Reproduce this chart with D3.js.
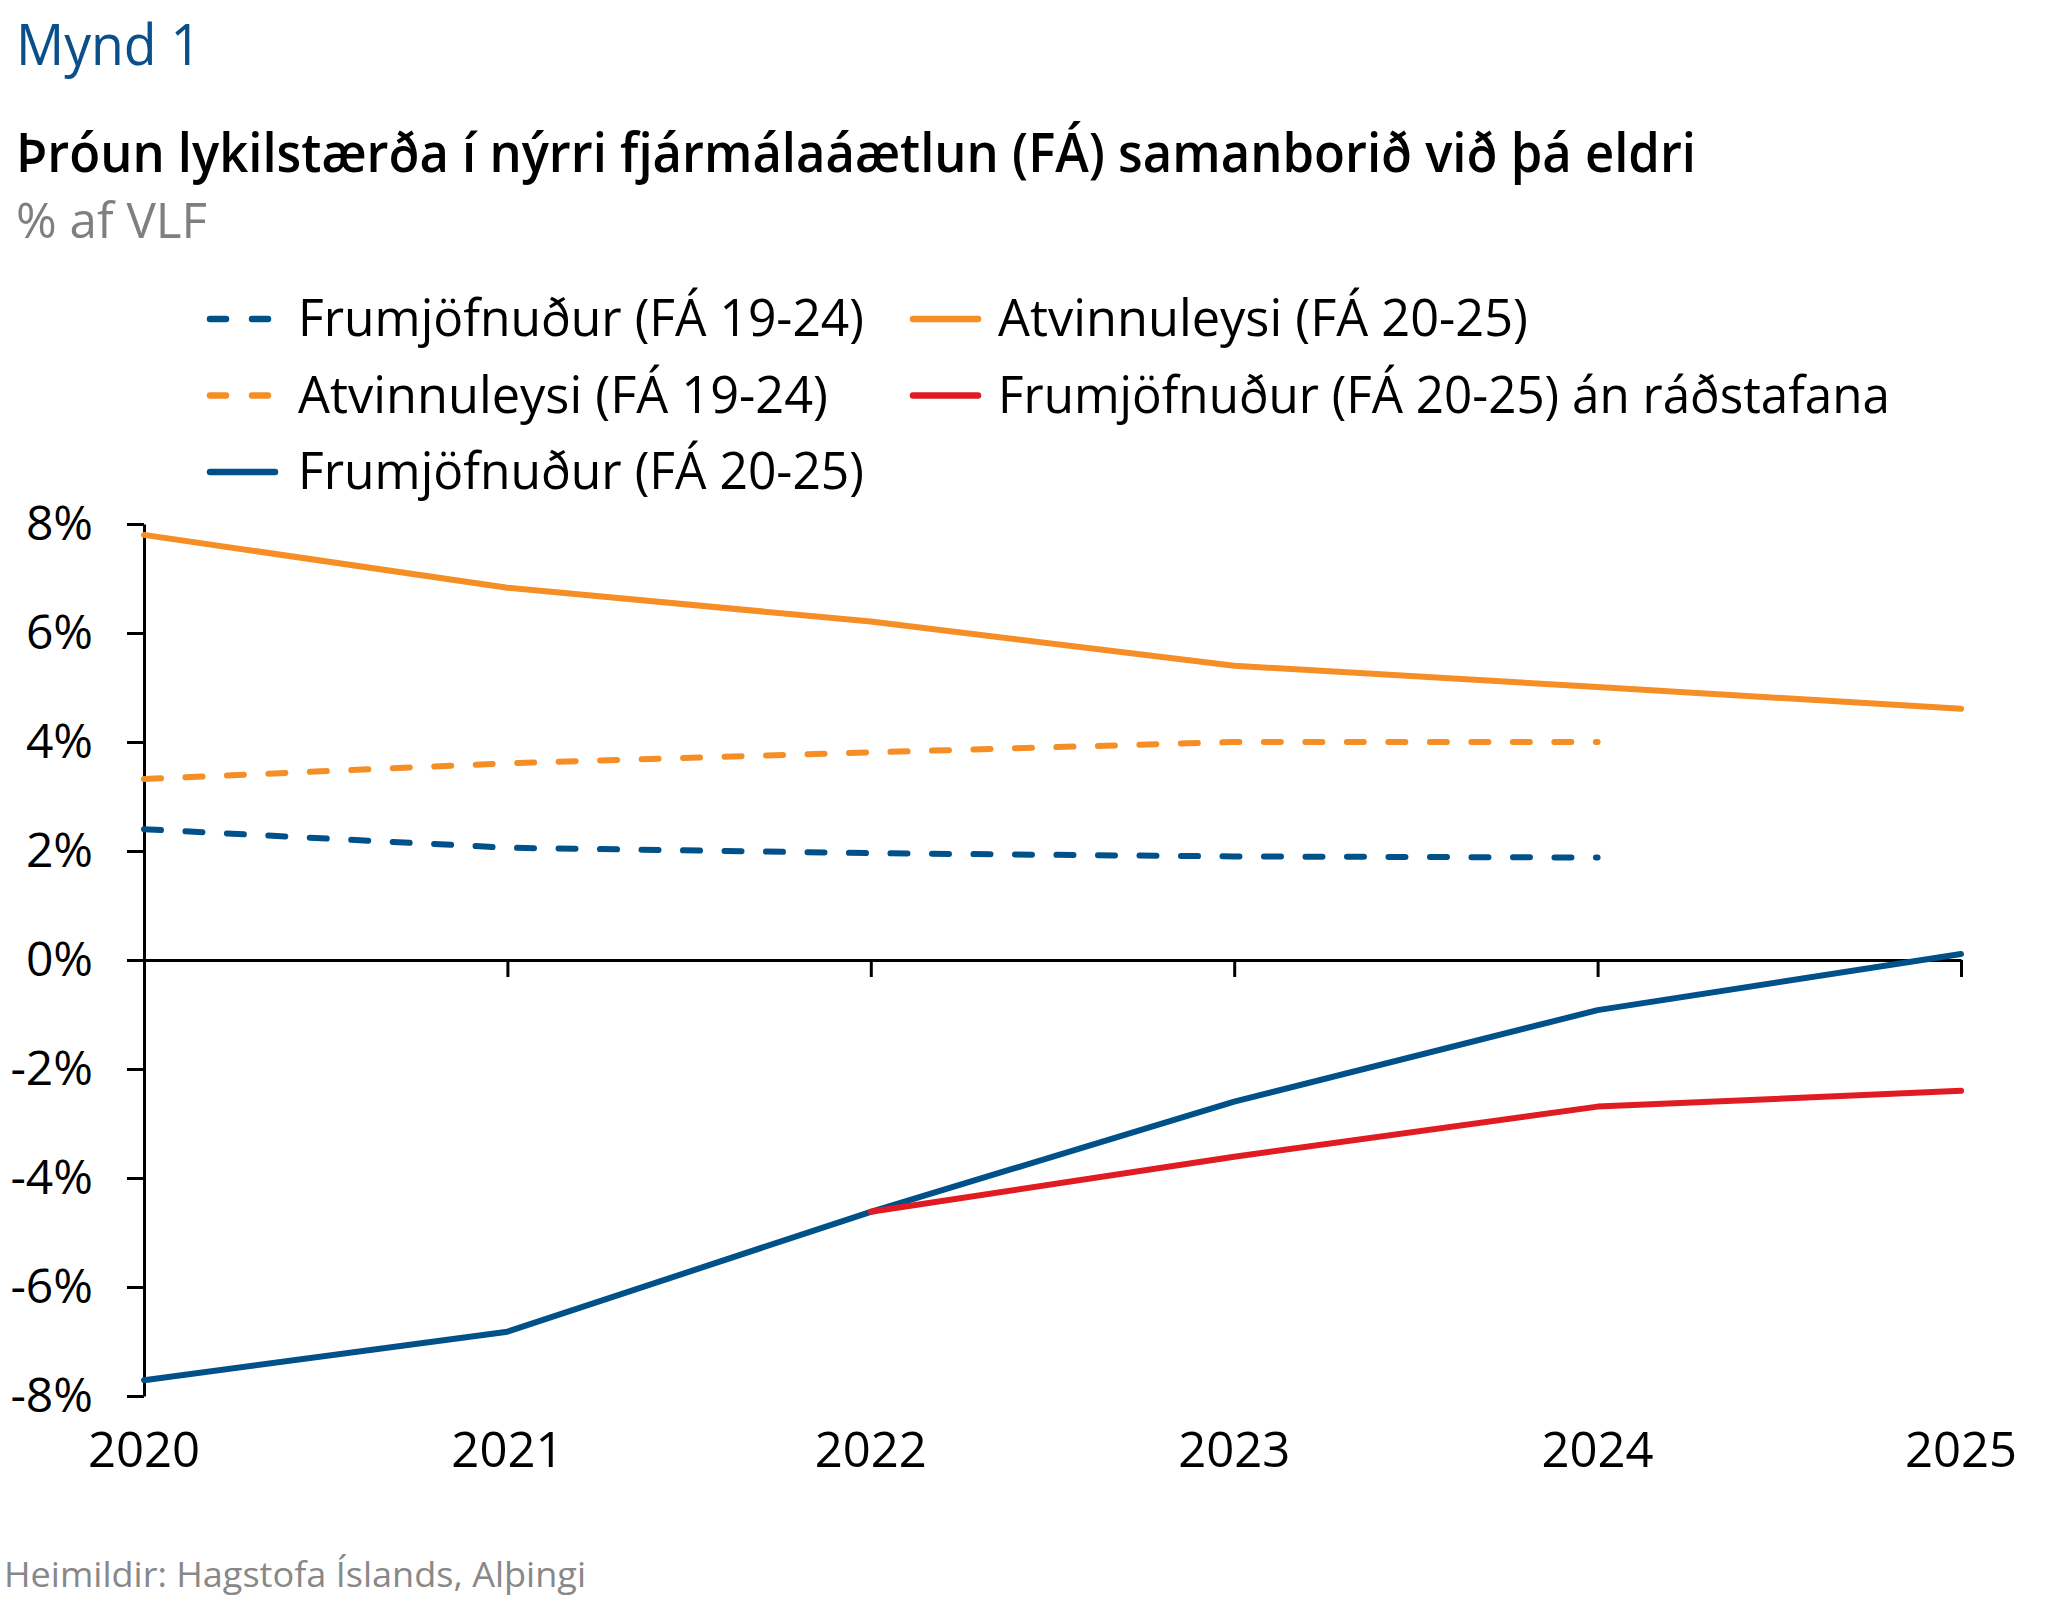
<!DOCTYPE html>
<html>
<head>
<meta charset="utf-8">
<script src="https://cdn.jsdelivr.net/npm/d3@7"></script>
<style>
 body { margin: 0; background: #fff; }
 text { font-family: 'Open Sans', 'Noto Sans', sans-serif; }
</style>
</head>
<body>
<svg width="2045" height="1600"></svg>
<script>
// Data (% of GDP).

var years = [2020, 2021, 2022, 2023, 2024, 2025];
var yTicks = [-8, -6, -4, -2, 0, 2, 4, 6, 8];

var frumOld = [2.4, 2.06, 1.96, 1.9, 1.88];          // Frumjöfnuður (FÁ 19-24), 2020-2024
var atvOld = [3.32, 3.61, 3.81, 4.0, 4.0];           // Atvinnuleysi (FÁ 19-24), 2020-2024
var frumNew = [-7.71, -6.82, -4.62, -2.6, -0.92, 0.11]; // Frumjöfnuður (FÁ 20-25)
var atvNew = [7.8, 6.83, 6.21, 5.4, 5.01, 4.61];     // Atvinnuleysi (FÁ 20-25)
var frumAn = [-4.62, -3.61, -2.69, -2.4];            // án ráðstafana, 2022-2025

var blue = '#00508a', orange = '#f68e26', red = '#e01b22';

var series = [
 {name: 'Frumjöfnuður (FÁ 19-24)', x: years.slice(0, 5), v: frumOld, color: blue, dash: true},
 {name: 'Atvinnuleysi (FÁ 19-24)', x: years.slice(0, 5), v: atvOld, color: orange, dash: true},
 {name: 'Atvinnuleysi (FÁ 20-25)', x: years, v: atvNew, color: orange, dash: false},
 {name: 'Frumjöfnuður (FÁ 20-25)', x: years, v: frumNew, color: blue, dash: false},
 {name: 'Frumjöfnuður (FÁ 20-25) án ráðstafana', x: years.slice(2), v: frumAn, color: red, dash: false}
];

var svg = d3.select('svg');
svg.append('rect').attr('width', 2045).attr('height', 1600).attr('fill', '#fff');

// squeeze text to the narrower width of the original font
function fit(sel, w) {
 sel.attr('textLength', w).attr('lengthAdjust', 'spacingAndGlyphs');
 return sel;
}

// Headings

fit(svg.append('text').attr('x', 16).attr('y', 65).attr('font-size', 56).attr('fill', '#0a4f8a')
 .text('Mynd 1'), 185);
fit(svg.append('text').attr('x', 16).attr('y', 172).attr('font-size', 55).attr('font-weight', 600)
 .text('Þróun lykilstærða í nýrri fjármálaáætlun (FÁ) samanborið við þá eldri'), 1680);
fit(svg.append('text').attr('x', 16).attr('y', 238).attr('font-size', 50).attr('fill', '#7f7f7f')
 .text('% af VLF'), 191);
fit(svg.append('text').attr('x', 4).attr('y', 1587).attr('font-size', 35).attr('fill', '#888')
 .text('Heimildir: Hagstofa Íslands, Alþingi'), 582);

// Scales and axes

var x = d3.scaleLinear().domain([2020, 2025]).range([144, 1961]);
var y = d3.scaleLinear().domain([-8, 8]).range([1396, 524]);

var yAxis = svg.append('g')
 .attr('transform', 'translate(' + x(2020) + ',0)')
 .call(d3.axisLeft(y).tickValues(yTicks).tickSize(17).tickSizeOuter(0).tickPadding(34)
 .tickFormat(function(d) { return d + '%'; }));

var xAxis = svg.append('g')
 .attr('transform', 'translate(0,' + y(0) + ')')
 .call(d3.axisBottom(x).tickValues(years).tickSize(17).tickSizeOuter(0).tickFormat(''));

svg.selectAll('.domain, .tick line').attr('stroke', '#000').attr('stroke-width', 3);
yAxis.selectAll('text').attr('font-size', 48).attr('fill', '#000')
 .attr('font-family', "'Open Sans', sans-serif");

svg.append('g').selectAll('text')
 .data(years)
 .enter().append('text')
 .attr('x', function(d) { return x(d); })
 .attr('y', 1467)
 .attr('text-anchor', 'middle')
 .attr('font-size', 49)
 .text(function(d) { return d; });

// Lines

var line = d3.line()
 .x(function(d) { return x(d[0]); })
 .y(function(d) { return y(d[1]); });

svg.append('g').selectAll('path')
 .data(series)
 .enter().append('path')
 .attr('d', function(s) { return line(d3.zip(s.x, s.v)); })
 .attr('fill', 'none')
 .attr('stroke', function(s) { return s.color; })
 .attr('stroke-width', 6)
 .attr('stroke-linecap', 'round')
 .attr('stroke-linejoin', 'round')
 .attr('stroke-dasharray', function(s) { return s.dash ? '17,24.5' : null; });

// Legend: two columns, three rows

var legendOrder = [0, 1, 3, 2, 4];
var legendW = [566, 530, 566, 530, 892];
var legend = svg.append('g').selectAll('g')
 .data(legendOrder)
 .enter().append('g')
 .attr('transform', function(d, i) {
  var col = i < 3 ? 0 : 1, row = i < 3 ? i : i - 3;
  return 'translate(' + (col ? 910 : 207) + ',' + (319 + row * 76.5) + ')';
 });

legend.append('line')
 .attr('x1', 3).attr('x2', 68)
 .attr('stroke', function(d) { return series[d].color; })
 .attr('stroke-width', 6.5)
 .attr('stroke-linecap', 'round')
 .attr('stroke-dasharray', function(d) { return series[d].dash ? '16,26' : null; });

legend.append('text')
 .attr('x', function(d, i) { return i < 3 ? 91 : 88; })
 .attr('y', 17)
 .attr('font-size', 52)
 .text(function(d) { return series[d].name; })
 .each(function(d, i) { fit(d3.select(this), legendW[i]); });
</script>
</body>
</html>
